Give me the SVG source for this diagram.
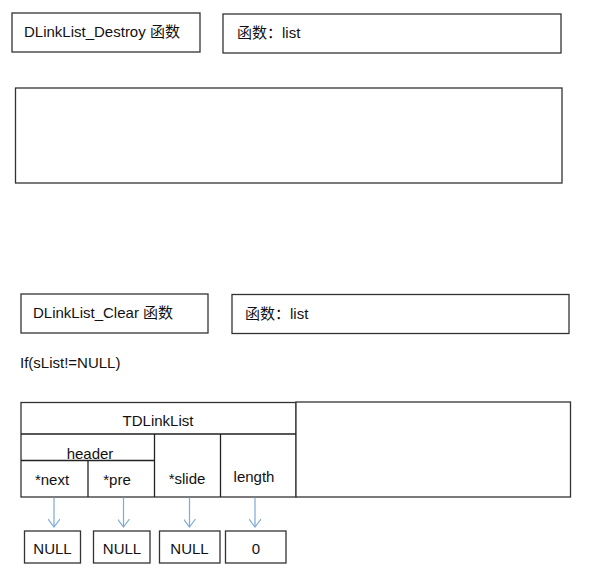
<svg xmlns="http://www.w3.org/2000/svg" width="610" height="568" viewBox="0 0 610 568">
<style>
.b{fill:#fff;stroke:#333;stroke-width:1.3}
.l{stroke:#222;stroke-width:1.3;fill:none}
.t{font-family:"Liberation Sans","Noto Sans CJK SC",sans-serif;font-size:15px;fill:#111}
.c{text-anchor:middle}
.a{stroke:#7ea9d8;stroke-width:1.2;fill:none}
</style>
<defs>
<marker id="ah" viewBox="0 0 12 12" refX="11" refY="6" markerWidth="12" markerHeight="12" markerUnits="userSpaceOnUse" orient="auto">
<path d="M3,0 L11,6 L3,12" fill="none" stroke="#7ea9d8" stroke-width="1.2"/>
</marker>
</defs>
<rect width="610" height="568" fill="#fff"/>
<g id="destroy-title"><rect class="b" x="12" y="13" width="188" height="39"/><text class="t" x="24" y="37">DLinkList_Destroy 函数</text></g>
<g id="destroy-param"><rect class="b" x="223" y="14" width="338" height="39"/><text class="t" x="237" y="38">函数：list</text></g>
<g id="destroy-body"><rect class="b" x="15.5" y="88" width="546.5" height="95"/></g>
<g id="clear-title"><rect class="b" x="21" y="294" width="187" height="39"/><text class="t" x="33" y="318">DLinkList_Clear 函数</text></g>
<g id="clear-param"><rect class="b" x="232" y="294.5" width="337" height="39"/><text class="t" x="245" y="319">函数：list</text></g>
<g id="cond"><text class="t" x="20" y="368">If(sList!=NULL)</text></g>
<g id="tdlinklist">
<rect class="b" x="21" y="402.5" width="275" height="94.5"/>
<rect class="b" x="296" y="402" width="274.5" height="95"/>
<path class="l" d="M21,434 H296 M21,460.5 H154.5 M88,460.5 V497 M154.5,434 V497 M220.5,434 V497"/>
<text class="t c" x="158" y="426">TDLinkList</text>
<text class="t c" x="90" y="459">header</text>
<text class="t c" x="52" y="485">*next</text>
<text class="t c" x="117" y="485">*pre</text>
<text class="t c" x="187" y="484">*slide</text>
<text class="t c" x="254" y="482">length</text>
</g>
<g id="null-next"><rect class="b" x="24.5" y="531" width="56" height="32"/><text class="t c" x="52.5" y="554">NULL</text></g>
<g id="null-pre"><rect class="b" x="93.5" y="531" width="56.5" height="32"/><text class="t c" x="122" y="554">NULL</text></g>
<g id="null-slide"><rect class="b" x="159.5" y="531" width="60.5" height="32"/><text class="t c" x="189.5" y="554">NULL</text></g>
<g id="zero-length"><rect class="b" x="225.5" y="531" width="60.5" height="32"/><text class="t c" x="256" y="554">0</text></g>
<g id="connectors">
<line class="a" x1="54" y1="497.5" x2="54" y2="527" marker-end="url(#ah)"/>
<line class="a" x1="123.5" y1="497.5" x2="123.5" y2="527" marker-end="url(#ah)"/>
<line class="a" x1="189.5" y1="497.5" x2="189.5" y2="527" marker-end="url(#ah)"/>
<line class="a" x1="255" y1="497.5" x2="255" y2="527" marker-end="url(#ah)"/>
</g>
</svg>
